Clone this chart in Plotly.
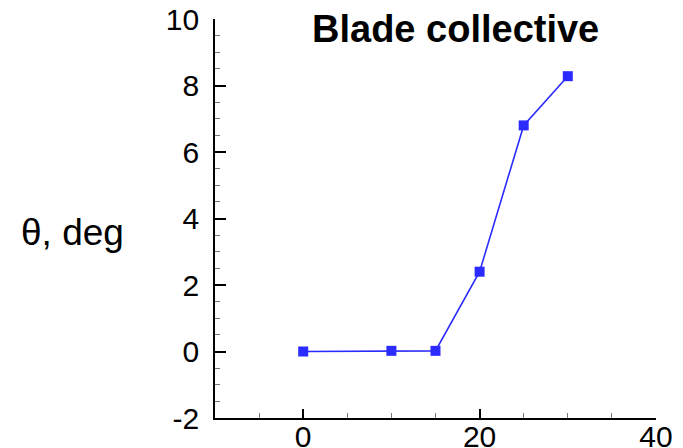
import plotly.graph_objects as go

x_vals = [0, 10, 15, 20, 25, 30]
theta_deg = [0.0, 0.02, 0.02, 2.4, 6.8, 8.28]
x_ticks = [0, 20, 40]
y_ticks = [-2, 0, 2, 4, 6, 8, 10]
y_ticktext = ["-2", "0", "2", "4", "6", "8", "10"]
title_text = "Blade collective"
y_label = "θ, deg"

fig = go.Figure()
fig.add_trace(go.Scatter(
    x=x_vals, y=theta_deg, mode="lines+markers",
    line=dict(color="#2b2bff", width=1.6),
    marker=dict(symbol="square", size=10, color="#2b2bff"),
    showlegend=False,
))

font_family = "Liberation Sans, Arial, sans-serif"
fig.update_layout(
    width=683, height=448,
    margin=dict(l=215, r=27, t=19, b=30),
    plot_bgcolor="white", paper_bgcolor="white",
    font=dict(family=font_family, color="black"),
)
fig.update_xaxes(
    range=[-10, 40], tickvals=x_ticks, ticks="inside", ticklen=9, tickwidth=1.5,
    tickcolor="black", showline=True, linecolor="black", linewidth=1.8,
    showgrid=False, zeroline=False, tickfont=dict(size=30), automargin=False,
    ticklabelstandoff=-9,
    minor=dict(dtick=5, tick0=0, ticks="inside", ticklen=5, tickcolor="#777", tickwidth=1, showgrid=False),
)
fig.update_yaxes(
    range=[-2, 10], tickvals=y_ticks, ticktext=y_ticktext, ticks="inside", ticklen=11, tickwidth=1.5,
    tickcolor="black", showline=True, linecolor="black", linewidth=1.8,
    showgrid=False, zeroline=False, tickfont=dict(size=30), ticklabelstandoff=8, automargin=False,
    minor=dict(dtick=0.5, tick0=0, ticks="inside", ticklen=5, tickcolor="#777", tickwidth=1, showgrid=False),
)
fig.add_annotation(
    text="<b>" + title_text + "</b>", xref="paper", yref="paper",
    x=0.545, y=0.975, xanchor="center", yanchor="middle", showarrow=False,
    font=dict(size=38, family=font_family, color="black"),
)
fig.add_annotation(
    text=y_label, xref="paper", yref="paper",
    x=-0.322, y=0.466, xanchor="center", yanchor="middle", showarrow=False,
    font=dict(size=37, family=font_family, color="black"),
)
fig.write_html("out.html")
